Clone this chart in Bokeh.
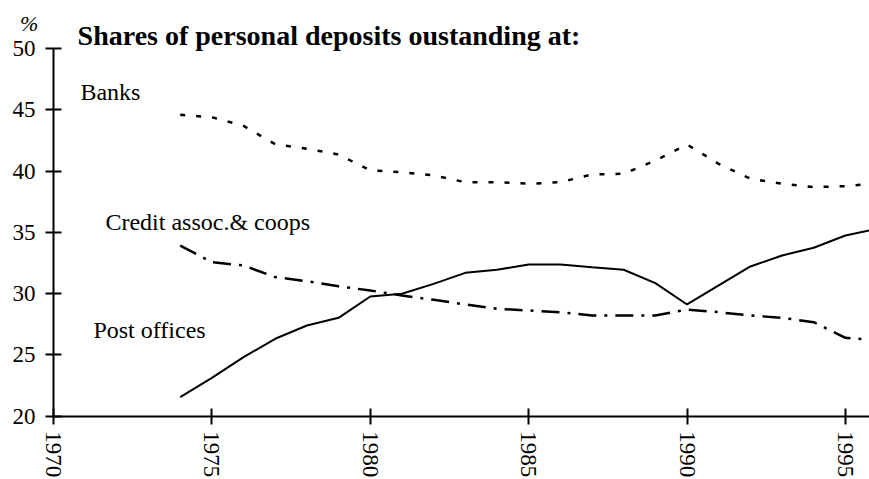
from bokeh.plotting import figure
from bokeh.models import Range1d, FixedTicker, Label
from bokeh.embed import file_html
from bokeh.resources import INLINE

years = list(range(1974, 1997))
post_offices = [21.55, 23.13, 24.82, 26.32, 27.40, 28.03, 29.77, 29.99, 30.80, 31.70,
                31.95, 32.38, 32.38, 32.16, 31.95, 30.86, 29.12, 30.67, 32.22, 33.12,
                33.75, 34.75, 35.30]
banks = [44.60, 44.40, 43.70, 42.20, 41.83, 41.36, 40.06, 39.92, 39.65, 39.10,
         39.10, 38.97, 39.10, 39.73, 39.79, 40.87, 42.18, 40.60, 39.38, 38.97,
         38.69, 38.78, 39.00]
credit = [33.93, 32.57, 32.30, 31.35, 31.02, 30.60, 30.26, 29.85, 29.50, 29.12,
          28.77, 28.63, 28.49, 28.22, 28.22, 28.22, 28.71, 28.49, 28.22, 28.03,
          27.67, 26.40, 26.20]

x_ticks = [1970, 1975, 1980, 1985, 1990, 1995]
y_ticks = [20, 25, 30, 35, 40, 45, 50]

FONT = "Liberation Serif"

p = figure(width=869, height=479, output_backend="svg", toolbar_location=None,
           x_range=Range1d(1968.327, 1995.76), y_range=Range1d(14.833, 53.93),
           min_border_left=0, min_border_right=0, min_border_top=0, min_border_bottom=0)
p.outline_line_color = None
p.xgrid.visible = False
p.ygrid.visible = False
p.background_fill_color = "white"
p.border_fill_color = "white"

p.line(years, post_offices, line_color="black", line_width=2)
p.line(years, banks, line_color="black", line_width=2.5, line_dash="5 11")
p.line(years, credit, line_color="black", line_width=2.5, line_dash="18 8 3 8")

for ax in (p.xaxis[0], p.yaxis[0]):
    ax.axis_line_width = 2
    ax.major_tick_line_width = 2
    ax.major_tick_in = 8
    ax.major_tick_out = 8
    ax.minor_tick_line_color = None
    ax.major_label_text_font = FONT
    ax.major_label_text_font_size = "23px"
    ax.major_label_text_color = "black"
    ax.axis_line_color = "black"
    ax.major_tick_line_color = "black"

p.xaxis.ticker = FixedTicker(ticks=x_ticks)
p.yaxis.ticker = FixedTicker(ticks=y_ticks)
p.yaxis.bounds = (20, 50)
p.yaxis.fixed_location = 1970
p.xaxis.bounds = (1970, 1995.76)
p.xaxis.fixed_location = 20
p.xaxis.major_label_orientation = "vertical"
p.xaxis.major_label_standoff = 7
p.yaxis.major_label_standoff = 10

labels = [
    ("Shares of personal deposits oustanding at:", 1970.76, 51.08, "28px", "bold"),
    ("Banks", 1970.85, 46.45, "24px", "normal"),
    ("Credit assoc.& coops", 1971.64, 35.84, "24px", "normal"),
    ("Post offices", 1971.26, 27.05, "24px", "normal"),
]
for txt, x, y, size, style in labels:
    p.add_layout(Label(x=x, y=y, text=txt, text_font=FONT, text_font_size=size,
                       text_font_style=style, text_align="left",
                       text_baseline="alphabetic", text_color="black"))

p.add_layout(Label(x=1969.23, y=52.06, text="%",
                   text_font=FONT, text_font_size="22px", text_font_style="italic",
                   text_align="center", text_baseline="alphabetic", text_color="black"))

open("out.html", "w").write(file_html(p, INLINE))
